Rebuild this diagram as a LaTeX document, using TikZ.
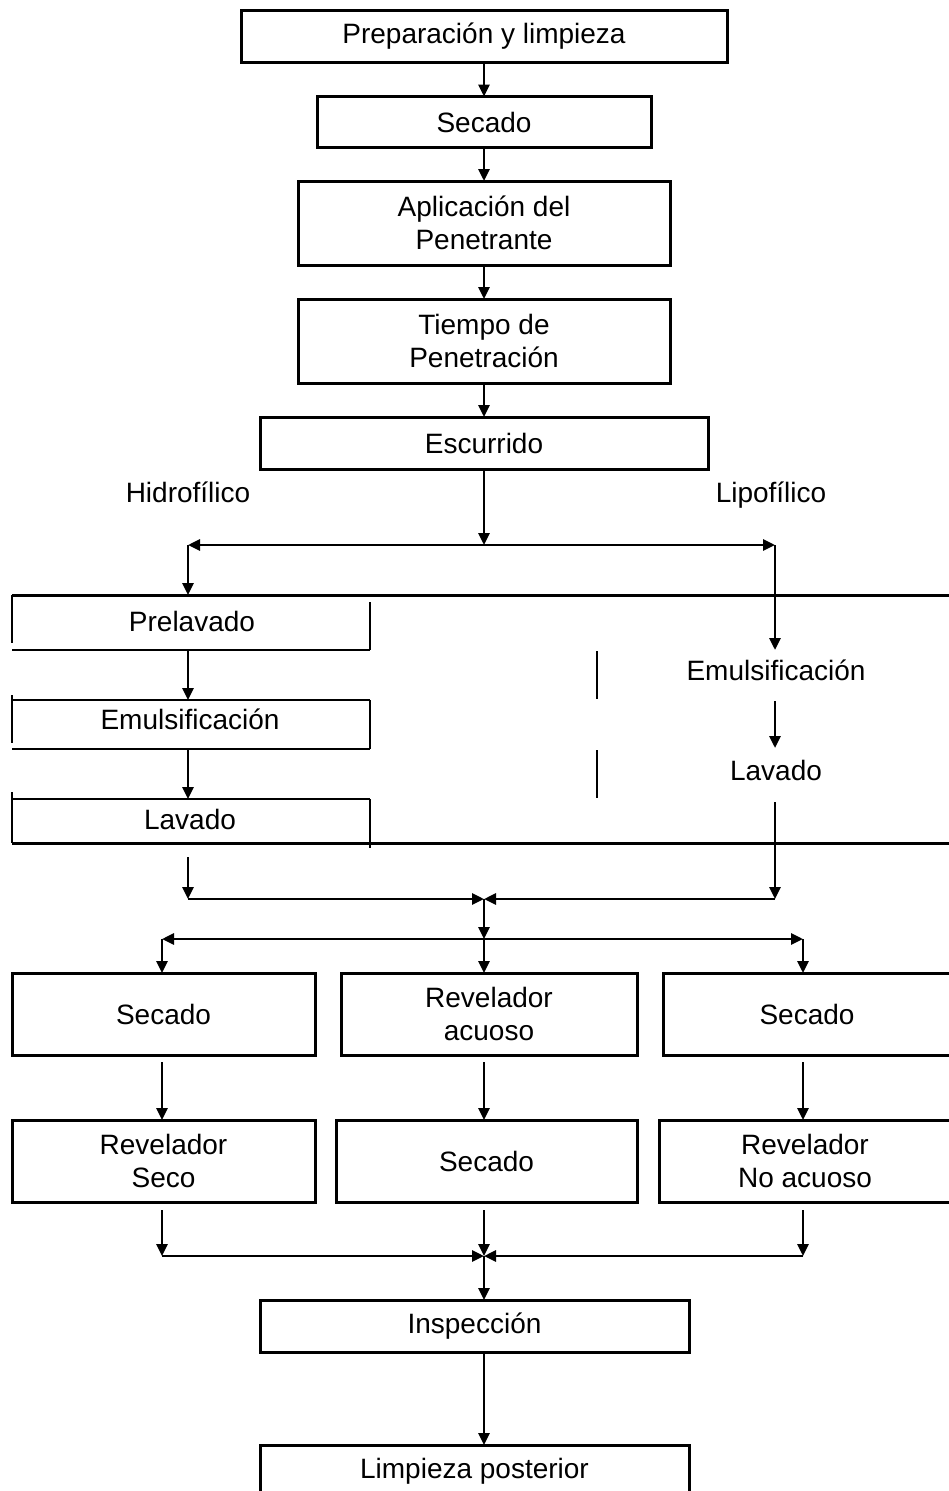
\documentclass[tikz,border=0pt]{standalone}
\usepackage{fontspec}
\setmainfont{Liberation Sans}
\usetikzlibrary{arrows.meta}
\begin{document}
\begin{tikzpicture}[x=1pt,y=-1pt,font=\fontsize{28}{33}\selectfont,
  box/.style={draw,line width=3pt,inner sep=0pt,outer sep=0pt,align=center},
  lbl/.style={inner sep=0pt,outer sep=0pt,align=center},
  arr/.style={line width=2.8pt,-{Triangle[length=12pt,width=11pt]}},
  heavy/.style={line width=3pt},
  light/.style={line width=2pt}]
\useasboundingbox (0,0) rectangle (949,1491);
\fill[white] (0,0) rectangle (949,1491);

% top chain
\node[box,minimum width=486pt,minimum height=52pt] (prep) at (484,36) {Preparación y limpieza};
\node[box,minimum width=334pt,minimum height=51pt] (sec1) at (484,122) {Secado};
\node[box,minimum width=372pt,minimum height=84pt] (apl) at (484,223) {Aplicación del\\Penetrante};
\node[box,minimum width=372pt,minimum height=84pt] (tie) at (484,341) {Tiempo de\\Penetración};
\node[box,minimum width=448pt,minimum height=52pt] (esc) at (484,443) {Escurrido};
\draw[arr] (prep.south) -- (sec1.north);
\draw[arr] (sec1.south) -- (apl.north);
\draw[arr] (apl.south) -- (tie.north);
\draw[arr] (tie.south) -- (esc.north);

% branch
\node[lbl,anchor=base] (hid) at (188,502) {Hidrofílico};
\node[lbl,anchor=base] (lip) at (771,502) {Lipofílico};
\coordinate (bT) at (484,545);
\coordinate (bL) at (188,545);
\coordinate (bR) at (775,545);
\draw[arr] (esc.south) -- (bT);
\draw[arr] (bT) -- (bL);
\draw[arr] (bT) -- (bR);

% band lines
\draw[heavy] (12,595) -- (949,595);
\draw[heavy] (12,843) -- (949,843);
% left sub boxes
\draw[light] (12,595) -- (12,643);
\draw[light] (12,650) -- (370,650);
\draw[light] (370,602) -- (370,650);
\draw[light] (12,700) -- (370,700);
\draw[light] (12,695) -- (12,743);
\draw[light] (12,749) -- (370,749);
\draw[light] (370,700) -- (370,749);
\draw[light] (12,799) -- (370,799);
\draw[light] (12,792) -- (12,843);
\draw[light] (370,799) -- (370,848);
% right ticks
\draw[light] (597,651) -- (597,699);
\draw[light] (597,750) -- (597,798);

% left column
\node[lbl] (pre) at (192,621) {Prelavado};
\node[lbl] (emL) at (190,719) {Emulsificación};
\node[lbl] (lavL) at (190,819) {Lavado};
\coordinate (pL1) at (188,595);
\coordinate (pL2) at (188,650);
\coordinate (pL3) at (188,700);
\coordinate (pL4) at (188,749);
\coordinate (pL5) at (188,799);
\coordinate (pL6) at (188,857);
\draw[arr] (bL) -- (pL1);
\draw[arr] (pL2) -- (pL3);
\draw[arr] (pL4) -- (pL5);

% right column
\node[lbl] (emR) at (776,670) {Emulsificación};
\node[lbl] (lavR) at (776,770) {Lavado};
\coordinate (pR0) at (775,650);
\coordinate (pR1) at (775,701);
\coordinate (pR2) at (775,748);
\coordinate (pR3) at (775,802);
\draw[arr] (bR) -- (pR0);
\draw[arr] (pR1) -- (pR2);

% merge 1
\coordinate (mL) at (188,899);
\coordinate (mC) at (484,899);
\coordinate (mR) at (775,899);
\draw[arr] (pL6) -- (mL);
\draw[arr] (pR3) -- (mR);
\draw[arr] (mL) -- (mC);
\draw[arr] (mR) -- (mC);

% split 2
\coordinate (sL) at (162,939);
\coordinate (sC) at (484,939);
\coordinate (sR) at (803,939);
\draw[arr] (mC) -- (sC);
\draw[arr] (sC) -- (sL);
\draw[arr] (sC) -- (sR);

% rows
\node[box,minimum width=303pt,minimum height=82pt] (secL) at (163.5,1014) {Secado};
\node[box,minimum width=296pt,minimum height=82pt] (revA) at (489,1014) {Revelador\\acuoso};
\node[box,minimum width=288pt,minimum height=82pt] (secR) at (807,1014) {Secado};
\node[box,minimum width=303pt,minimum height=82pt] (revS) at (163.5,1161) {Revelador\\Seco};
\node[box,minimum width=301pt,minimum height=82pt] (secM) at (486.5,1161) {Secado};
\node[box,minimum width=292pt,minimum height=82pt] (revN) at (805,1161) {Revelador\\No acuoso};
\draw[arr] (sL) -- (sL |- secL.north);
\draw[arr] (sC) -- (sC |- revA.north);
\draw[arr] (sR) -- (sR |- secR.north);
\draw[arr,shorten <=7pt] (sL |- secL.south) -- (sL |- revS.north);
\draw[arr,shorten <=7pt] (sC |- revA.south) -- (sC |- secM.north);
\draw[arr,shorten <=7pt] (sR |- secR.south) -- (sR |- revN.north);

% merge 2
\coordinate (nL) at (162,1256);
\coordinate (nC) at (484,1256);
\coordinate (nR) at (803,1256);
\draw[arr,shorten <=8pt] (nL |- revS.south) -- (nL);
\draw[arr,shorten <=8pt] (nC |- secM.south) -- (nC);
\draw[arr,shorten <=8pt] (nR |- revN.south) -- (nR);
\draw[arr] (nL) -- (nC);
\draw[arr] (nR) -- (nC);

\node[box,minimum width=429pt,minimum height=52pt] (insp) at (474.5,1326) {Inspección};
\node[box,minimum width=429pt,minimum height=52pt] (limp) at (474.5,1471) {Limpieza posterior};
\draw[arr] (nC) -- (nC |- insp.north);
\draw[arr] (nC |- insp.south) -- (nC |- limp.north);
\end{tikzpicture}
\end{document}
